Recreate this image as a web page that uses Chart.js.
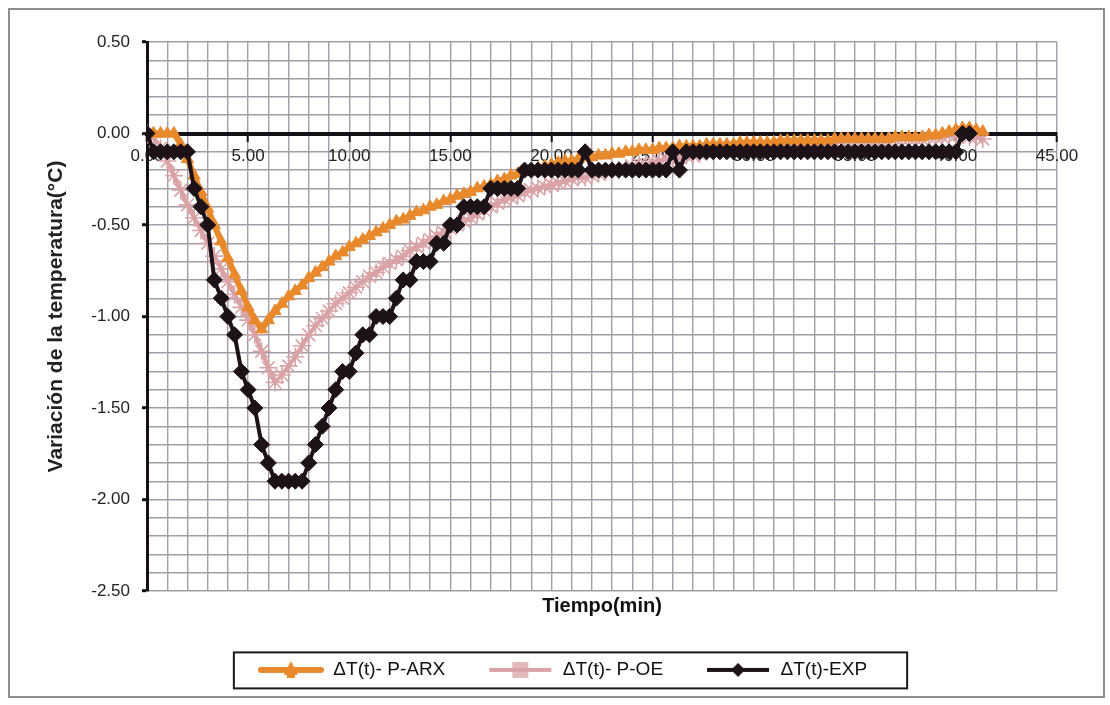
<!DOCTYPE html>
<html>
<head>
<meta charset="utf-8">
<script src="https://cdn.jsdelivr.net/npm/chart.js@4.4.1/dist/chart.umd.min.js"></script>
<style>
  html, body { margin: 0; padding: 0; background: #ffffff; }
  #wrap { width: 1110px; height: 705px; }
</style>
</head>
<body>
<div id="wrap"><canvas id="c" width="1110" height="705"></canvas></div>
<script>
// ---------------- DATA ----------------
const tiempo = [0,0.33,0.67,1,1.33,1.67,2,2.33,2.67,3,3.33,3.67,4,4.33,4.67,5,5.33,5.67,6,6.33,6.67,7,7.33,7.67,8,8.33,8.67,9,9.33,9.67,10,10.33,10.67,11,11.33,11.67,12,12.33,12.67,13,13.33,13.67,14,14.33,14.67,15,15.33,15.67,16,16.33,16.67,17,17.33,17.67,18,18.33,18.67,19,19.33,19.67,20,20.33,20.67,21,21.33,21.67,22,22.33,22.67,23,23.33,23.67,24,24.33,24.67,25,25.33,25.67,26,26.33,26.67,27,27.33,27.67,28,28.33,28.67,29,29.33,29.67,30,30.33,30.67,31,31.33,31.67,32,32.33,32.67,33,33.33,33.67,34,34.33,34.67,35,35.33,35.67,36,36.33,36.67,37,37.33,37.67,38,38.33,38.67,39,39.33,39.67,40,40.33,40.67,41,41.33];

const dT_ARX = [0,0,0,0,0,-0.06,-0.14,-0.23,-0.32,-0.41,-0.50,-0.59,-0.68,-0.77,-0.86,-0.95,-1.02,-1.07,-1.02,-0.97,
  -0.93,-0.89,-0.86,-0.83,-0.79,-0.76,-0.73,-0.70,-0.67,-0.65,-0.62,-0.60,-0.58,-0.56,-0.54,-0.52,-0.50,-0.48,-0.47,-0.45,
  -0.43,-0.42,-0.40,-0.39,-0.37,-0.36,-0.34,-0.33,-0.32,-0.30,-0.29,-0.28,-0.26,-0.25,-0.23,-0.22,-0.21,-0.20,-0.19,-0.18,
  -0.17,-0.16,-0.15,-0.15,-0.14,-0.13,-0.13,-0.12,-0.12,-0.11,-0.11,-0.10,-0.10,-0.09,-0.09,-0.09,-0.08,-0.08,-0.08,-0.07,
  -0.07,-0.07,-0.07,-0.06,-0.06,-0.06,-0.06,-0.06,-0.05,-0.05,-0.05,
  -0.05,-0.05,-0.05,-0.04,-0.04,-0.04,
  -0.04,-0.04,-0.04,-0.04,-0.04,-0.03,
  -0.03,-0.03,-0.03,-0.03,-0.03,-0.03,
  -0.03,-0.03,-0.02,-0.02,-0.02,-0.02,
  -0.02,-0.01,-0.01,
  0.00,0.01,0.02,0.03,0.03,0.02,0.01];

const dT_OE = [0,-0.02,-0.08,-0.15,-0.23,-0.31,-0.39,-0.46,-0.53,-0.60,-0.67,-0.74,-0.81,-0.88,-0.95,-1.02,-1.10,-1.19,-1.28,-1.36,
  -1.32,-1.27,-1.22,-1.16,-1.10,-1.05,-1.01,-0.97,-0.93,-0.90,-0.87,-0.84,-0.81,-0.78,-0.76,-0.73,-0.71,-0.69,-0.67,-0.64,
  -0.62,-0.60,-0.58,-0.56,-0.54,-0.52,-0.50,-0.48,-0.46,-0.44,-0.42,-0.40,-0.38,-0.36,-0.35,-0.34,-0.32,-0.31,-0.30,-0.29,
  -0.28,-0.27,-0.26,-0.25,-0.24,-0.24,-0.23,-0.22,-0.21,-0.20,-0.20,-0.19,-0.18,-0.17,-0.17,-0.16,-0.15,-0.14,-0.14,-0.13,
  -0.12,-0.12,-0.11,-0.10,-0.10,-0.09,-0.09,-0.08,-0.08,-0.08,-0.07,
  -0.07,-0.07,-0.06,-0.06,-0.06,-0.06,
  -0.06,-0.05,-0.05,-0.05,-0.05,-0.05,
  -0.04,-0.04,-0.04,-0.04,-0.04,-0.04,
  -0.04,-0.04,-0.03,-0.03,-0.03,-0.03,
  -0.03,-0.02,-0.02,
  -0.02,-0.01,-0.01,-0.01,-0.02,-0.02,-0.03];

const dT_EXP = [0,-0.1,-0.1,-0.1,-0.1,-0.1,-0.1,-0.3,-0.4,-0.5,-0.8,-0.9,-1.0,-1.1,-1.3,-1.4,-1.5,-1.7,-1.8,-1.9,
  -1.9,-1.9,-1.9,-1.9,-1.8,-1.7,-1.6,-1.5,-1.4,-1.3,-1.3,-1.2,-1.1,-1.1,-1.0,-1.0,-1.0,-0.9,-0.8,-0.8,
  -0.7,-0.7,-0.7,-0.6,-0.6,-0.5,-0.5,-0.4,-0.4,-0.4,-0.4,-0.3,-0.3,-0.3,-0.3,-0.3,
  -0.2,-0.2,-0.2,-0.2,-0.2,-0.2,-0.2,-0.2,-0.2,
  -0.1,
  -0.2,-0.2,-0.2,-0.2,-0.2,-0.2,-0.2,-0.2,-0.2,-0.2,-0.2,-0.2,
  -0.1,-0.2,
  -0.1,-0.1,-0.1,-0.1,-0.1,-0.1,-0.1,-0.1,-0.1,-0.1,-0.1,-0.1,-0.1,-0.1,-0.1,-0.1,-0.1,-0.1,-0.1,-0.1,
  -0.1,-0.1,-0.1,-0.1,-0.1,-0.1,-0.1,-0.1,-0.1,-0.1,-0.1,-0.1,-0.1,-0.1,-0.1,-0.1,-0.1,-0.1,-0.1,-0.1,-0.1,
  0,0];

const seriesNames = ['\u0394T(t)- P-ARX', '\u0394T(t)- P-OE', '\u0394T(t)-EXP'];
const xTickValues = [0,5,10,15,20,25,30,35,40,45];
const xTickLabels = ['0.00','5.00','10.00','15.00','20.00','25.00','30.00','35.00','40.00','45.00'];
const yTickValues = [0.5,0,-0.5,-1,-1.5,-2,-2.5];
const yTickLabels = ['0.50','0.00','-0.50','-1.00','-1.50','-2.00','-2.50'];
const xTitle = 'Tiempo(min)';
const yTitle = 'Variación de la temperatura(°C)';

// ---------------- STYLE ----------------
const ORANGE = '#E8892C';
const PINK = '#D9A3A6';
const BLACK = '#1d1218';
const GRID = '#a49ca6';
const FONT = '"Liberation Sans", Arial, sans-serif';

function labelFor(vals, labs, v) {
  for (let i = 0; i < vals.length; i++) if (Math.abs(vals[i] - v) < 1e-6) return labs[i];
  return '';
}
function isMajor(vals, v) { return labelFor(vals, vals.map(String), v) !== ''; }
function pts(xs, ys) { return ys.map((y, i) => ({x: xs[i], y: y})); }

function legendImg(kind) {
  const c = document.createElement('canvas');
  c.width = 66; c.height = 20;
  const g = c.getContext('2d');
  const cy = 10, cx = 33;
  if (kind === 0) {
    g.strokeStyle = ORANGE; g.lineWidth = 6; g.lineCap = 'round';
    g.beginPath(); g.moveTo(3, cy); g.lineTo(63, cy); g.stroke();
    g.fillStyle = ORANGE;
    g.beginPath(); g.moveTo(cx, cy - 9); g.lineTo(cx + 7, cy + 5); g.lineTo(cx - 7, cy + 5); g.closePath(); g.fill();
    g.fillRect(cx - 4, cy - 2, 8, 10);
  } else if (kind === 1) {
    g.strokeStyle = PINK; g.lineWidth = 4;
    g.beginPath(); g.moveTo(2, cy); g.lineTo(64, cy); g.stroke();
    g.lineWidth = 1.5;
    for (let dx = -7; dx <= 7; dx += 2) {
      g.beginPath(); g.moveTo(cx + dx, cy - 8); g.lineTo(cx + dx, cy + 8); g.stroke();
    }
  } else {
    g.strokeStyle = BLACK; g.lineWidth = 4;
    g.beginPath(); g.moveTo(2, cy); g.lineTo(64, cy); g.stroke();
    g.fillStyle = BLACK;
    g.beginPath(); g.moveTo(cx, cy - 7); g.lineTo(cx + 7, cy); g.lineTo(cx, cy + 7); g.lineTo(cx - 7, cy); g.closePath(); g.fill();
  }
  return c;
}
const legendImgs = [legendImg(0), legendImg(1), legendImg(2)];

const framePlugin = {
  id: 'frames',
  beforeDraw(chart) {
    const ctx = chart.ctx;
    ctx.save();
    ctx.fillStyle = '#ffffff';
    ctx.fillRect(0, 0, chart.width, chart.height);
    ctx.strokeStyle = '#8e8e8e';
    ctx.lineWidth = 2;
    ctx.strokeRect(9, 9, 1095, 688);
    ctx.restore();
  },
  afterDraw(chart) {
    const hb = chart.legend && chart.legend.legendHitBoxes;
    if (!hb || !hb.length) return;
    let l = Infinity, r = -Infinity, t = hb[0].top, h = hb[0].height;
    hb.forEach(b => { l = Math.min(l, b.left); r = Math.max(r, b.left + b.width); });
    const ctx = chart.ctx;
    ctx.save();
    ctx.strokeStyle = '#1a1a1a';
    ctx.lineWidth = 2;
    ctx.strokeRect(l - 24, t - 8, (r + 40) - (l - 24), h + 17);
    ctx.restore();
  }
};

new Chart(document.getElementById('c'), {
  type: 'line',
  data: {
    datasets: [
      {
        label: seriesNames[0], data: pts(tiempo, dT_ARX), order: 1,
        borderColor: ORANGE, backgroundColor: ORANGE, borderWidth: 6,
        pointStyle: 'triangle', pointRadius: 7, pointBorderWidth: 1,
        pointBackgroundColor: ORANGE, pointBorderColor: ORANGE, tension: 0
      },
      {
        label: seriesNames[1], data: pts(tiempo, dT_OE), order: 2,
        borderColor: PINK, backgroundColor: PINK, borderWidth: 4,
        pointStyle: 'star', pointRadius: 9, pointBorderWidth: 1.6,
        pointBackgroundColor: PINK, pointBorderColor: PINK, tension: 0
      },
      {
        label: seriesNames[2], data: pts(tiempo, dT_EXP), order: 0,
        borderColor: BLACK, backgroundColor: BLACK, borderWidth: 4,
        pointStyle: 'rectRot', pointRadius: 8, pointBorderWidth: 1,
        pointBackgroundColor: BLACK, pointBorderColor: BLACK, tension: 0
      }
    ]
  },
  options: {
    responsive: false,
    animation: false,
    devicePixelRatio: 1,
    layout: { padding: { left: 68, right: 53, top: 42, bottom: 15.6 } },
    scales: {
      x: {
        type: 'linear',
        position: { y: 0 },
        min: 0, max: 45,
        ticks: {
          stepSize: 1, autoSkip: false, maxRotation: 0, padding: 7,
          color: '#222', font: { family: FONT, size: 17 },
          callback: (v) => labelFor(xTickValues, xTickLabels, v)
        },
        grid: {
          color: GRID, lineWidth: 1.4, tickLength: 6,
          tickColor: (ctx) => (ctx.tick && isMajor(xTickValues, ctx.tick.value)) ? '#111' : 'rgba(0,0,0,0)',
          tickWidth: 2
        },
        border: { display: true, color: '#151015', width: 4 }
      },
      x2: {
        type: 'linear',
        position: 'bottom',
        min: 0, max: 45,
        grid: { display: false },
        border: { display: false },
        ticks: { display: false },
        title: {
          display: true, text: xTitle, color: '#111',
          font: { family: FONT, size: 20, weight: 'bold' }, padding: { top: 0, bottom: 0 }
        },
        afterFit: (s) => { s.height = 27.4; }
      },
      y: {
        type: 'linear',
        position: 'left',
        min: -2.5, max: 0.5,
        ticks: {
          stepSize: 0.1, autoSkip: false, padding: 12,
          color: '#222', font: { family: FONT, size: 17 },
          callback: (v) => labelFor(yTickValues, yTickLabels, v)
        },
        grid: {
          color: GRID, lineWidth: 1.4, tickLength: 5,
          tickColor: (ctx) => (ctx.tick && isMajor(yTickValues, ctx.tick.value)) ? '#111' : 'rgba(0,0,0,0)',
          tickWidth: 3
        },
        border: { display: true, color: '#151015', width: 3 },
        title: {
          display: true, text: yTitle, color: '#222',
          font: { family: FONT, size: 21, weight: 'bold' }, padding: { top: -24, bottom: 0 }
        },
        afterFit: (s) => { s.width = 79; }
      }
    },
    plugins: {
      tooltip: { enabled: false },
      legend: {
        display: true,
        position: 'bottom',
        fullSize: true,
        labels: {
          usePointStyle: true,
          pointStyleWidth: 66,
          padding: 42,
          color: '#111',
          font: { family: FONT, size: 19 },
          sort: (a, b) => a.datasetIndex - b.datasetIndex,
          generateLabels: (chart) => {
            const items = Chart.defaults.plugins.legend.labels.generateLabels(chart);
            items.forEach(it => { it.pointStyle = legendImgs[it.datasetIndex]; });
            return items;
          }
        }
      }
    }
  },
  plugins: [framePlugin]
});
</script>
</body>
</html>
